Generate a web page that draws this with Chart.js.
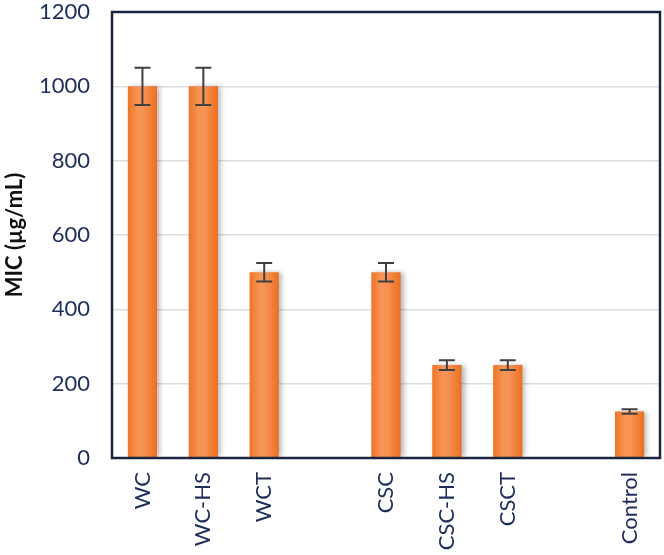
<!DOCTYPE html>
<html>
<head>
<meta charset="utf-8">
<script src="https://cdn.jsdelivr.net/npm/chart.js@4/dist/chart.umd.min.js"></script>
<style>
html,body{margin:0;padding:0;background:#fff;}
#wrap{width:664px;height:555px;}
</style>
</head>
<body>
<div id="wrap"><canvas id="c" width="664" height="555"></canvas></div>
<script>
const categories = ['WC', 'WC-HS', 'WCT', '', 'CSC', 'CSC-HS', 'CSCT', '', 'Control'];
const micValues = [1000, 1000, 500, null, 500, 250, 250, null, 125];
const errorValues = [50, 50, 25, null, 25, 13, 13, null, 6];
const yTicks = [0, 200, 400, 600, 800, 1000, 1200];

const navy = '#1F2D5A';
const borderNavy = '#1B2440';

function barGradient(context) {
  const chart = context.chart;
  const xs = chart.scales && chart.scales.x;
  if (!xs || context.dataIndex === undefined) return '#F58A3E';
  const cx = xs.getPixelForValue(context.dataIndex);
  const slot = (xs.right - xs.left) / categories.length;
  const w = slot * 0.48;
  if (!isFinite(cx) || !isFinite(w) || w <= 0) return '#F58A3E';
  const g = chart.ctx.createLinearGradient(cx - w / 2, 0, cx + w / 2, 0);
  g.addColorStop(0, '#EE7427');
  g.addColorStop(0.35, '#F79556');
  g.addColorStop(0.55, '#F69252');
  g.addColorStop(1, '#EB6F20');
  return g;
}

const shadowPlugin = {
  id: 'barShadow',
  beforeDatasetsDraw(chart) {
    const ctx = chart.ctx;
    ctx.save();
    ctx.shadowColor = 'rgba(0,0,0,0.28)';
    ctx.shadowBlur = 5;
    ctx.shadowOffsetX = 3;
    ctx.shadowOffsetY = 0;
  },
  afterDatasetsDraw(chart) {
    chart.ctx.restore();
  }
};

const errorBarPlugin = {
  id: 'errorBars',
  afterDatasetsDraw(chart) {
    const ctx = chart.ctx;
    const xs = chart.scales.x, ys = chart.scales.y;
    ctx.save();
    ctx.strokeStyle = '#404040';
    ctx.lineWidth = 2;
    micValues.forEach((v, i) => {
      if (v === null || errorValues[i] === null) return;
      const x = xs.getPixelForValue(i);
      const yTop = ys.getPixelForValue(v + errorValues[i]);
      const yBot = ys.getPixelForValue(v - errorValues[i]);
      const cap = 8;
      ctx.beginPath();
      ctx.moveTo(x, yTop); ctx.lineTo(x, yBot);
      ctx.moveTo(x - cap, yTop); ctx.lineTo(x + cap, yTop);
      ctx.moveTo(x - cap, yBot); ctx.lineTo(x + cap, yBot);
      ctx.stroke();
    });
    ctx.restore();
  }
};

const framePlugin = {
  id: 'frame',
  afterDraw(chart) {
    const a = chart.chartArea;
    const ctx = chart.ctx;
    ctx.save();
    ctx.strokeStyle = borderNavy;
    ctx.lineWidth = 2.5;
    ctx.strokeRect(a.left, a.top, a.right - a.left, a.bottom - a.top);
    ctx.restore();
  }
};

new Chart(document.getElementById('c'), {
  type: 'bar',
  data: {
    labels: categories,
    datasets: [{
      data: micValues,
      backgroundColor: barGradient,
      borderWidth: 0,
      categoryPercentage: 1,
      barPercentage: 0.48
    }]
  },
  options: {
    responsive: false,
    animation: false,
    devicePixelRatio: 1,
    layout: { padding: { top: 12, right: 4, left: 0, bottom: 0 } },
    plugins: { legend: { display: false }, tooltip: { enabled: false } },
    scales: {
      x: {
        offset: true,
        grid: { display: false, drawTicks: false },
        border: { display: false },
        ticks: {
          color: navy,
          font: { family: 'Lato', size: 22 },
          maxRotation: 90,
          minRotation: 90,
          padding: 14,
          autoSkip: false
        },
        afterFit(scale) {
          scale.height = 97;
          scale.paddingLeft = 0; scale.paddingRight = 0;
          scale.paddingTop = 0; scale.paddingBottom = 0;
        }
      },
      y: {
        min: 0,
        max: 1200,
        afterBuildTicks(scale) { scale.ticks = yTicks.map(v => ({ value: v })); },
        grid: { color: '#DDDDDD', lineWidth: 1.5, drawTicks: false },
        border: { display: false },
        ticks: {
          color: navy,
          font: { family: 'Lato', size: 22 },
          padding: 22,
          callback: (v) => String(v)
        },
        title: {
          display: true,
          text: 'MIC (µg/mL)',
          color: '#111',
          font: { family: 'Lato', size: 22, weight: 'bold' },
          padding: { top: 2, bottom: 0 }
        },
        afterFit(scale) {
          scale.width = 112;
          scale.paddingTop = 0; scale.paddingBottom = 0;
          scale.paddingLeft = 0; scale.paddingRight = 0;
        }
      }
    }
  },
  plugins: [shadowPlugin, errorBarPlugin, framePlugin]
});
</script>
</body>
</html>
